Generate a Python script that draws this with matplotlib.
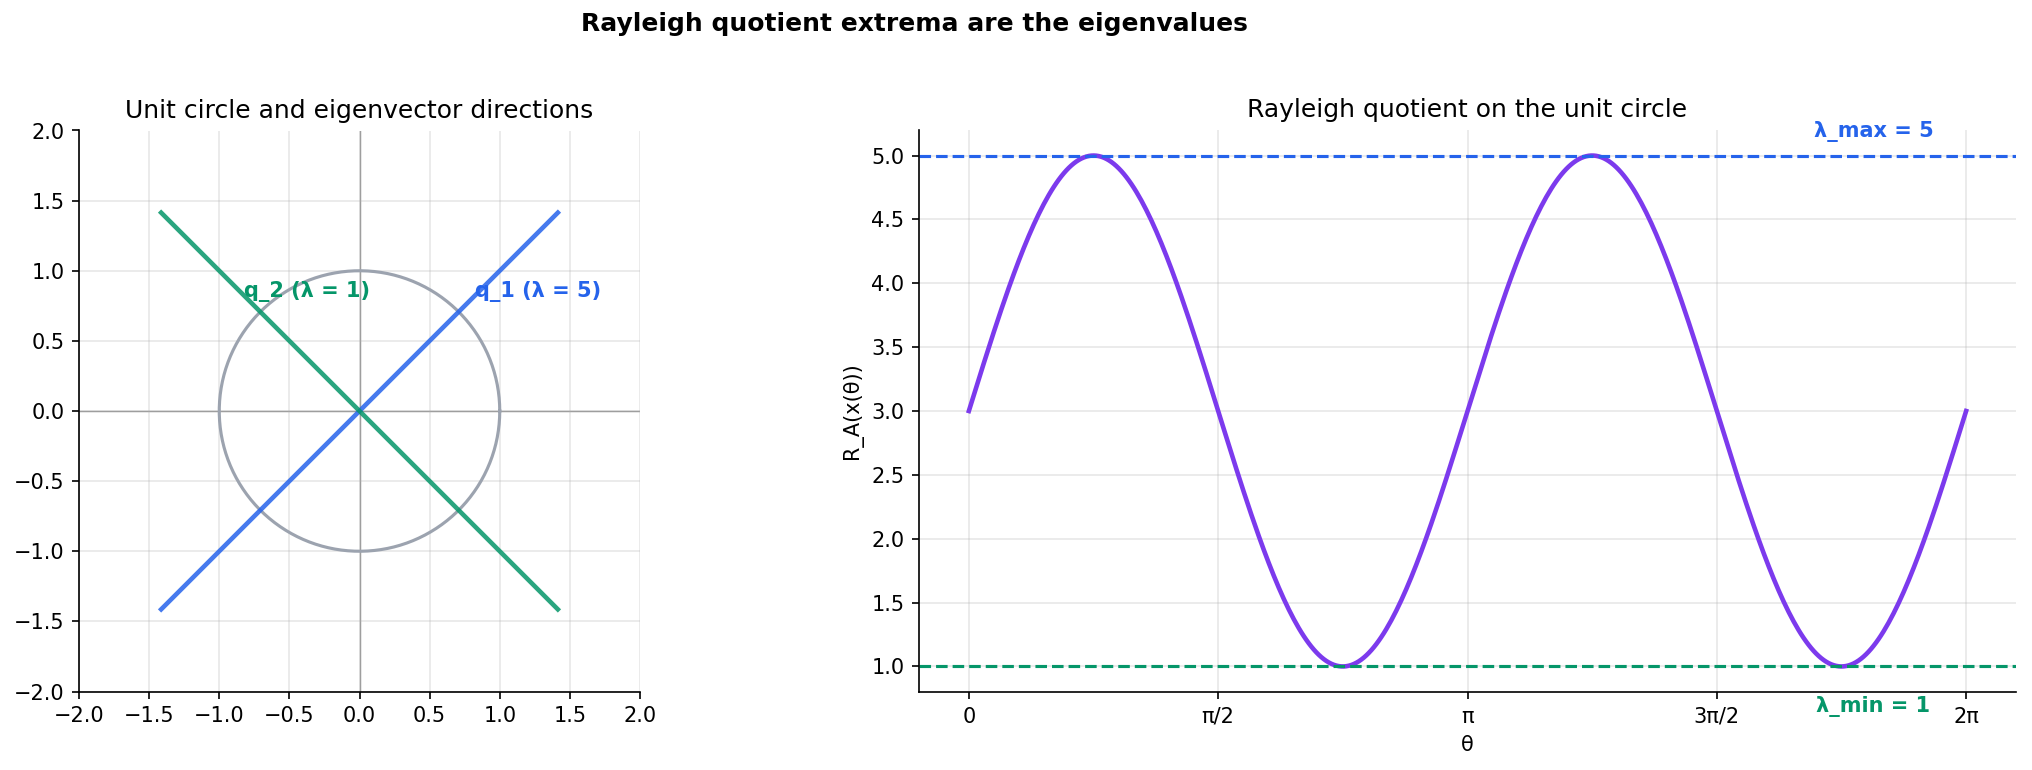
import numpy as np
import matplotlib.pyplot as plt

# symmetric matrix and its eigen-pairs
A = np.array([[3.0, 2.0],
              [2.0, 3.0]])
lam_max, lam_min = 5, 1
q1 = np.array([1.0, 1.0]) / np.sqrt(2)
q2 = np.array([-1.0, 1.0]) / np.sqrt(2)

tick_pos = [0, np.pi / 2, np.pi, 3 * np.pi / 2, 2 * np.pi]
tick_lab = ['0', 'π/2', 'π', '3π/2', '2π']

c_blue = '#2563eb'
c_green = '#059669'
c_purple = '#7c3aed'
c_gray = '#9ca3af'

theta = np.linspace(0, 2 * np.pi, 400)
X = np.vstack([np.cos(theta), np.sin(theta)])
R = np.einsum('in,ij,jn->n', X, A, X)

fig = plt.figure(figsize=(2032 / 150, 770 / 150), dpi=150)
ax1 = fig.add_axes([79 / 2032, 1 - 692 / 770, 561 / 2032, 562 / 770])
ax2 = fig.add_axes([919 / 2032, 1 - 692 / 770, 1097 / 2032, 562 / 770])

# left: unit circle + eigenvector lines
ax1.plot(X[0], X[1], color=c_gray, lw=1.5)
s = 2.0
ax1.plot([-s * q1[0], s * q1[0]], [-s * q1[1], s * q1[1]], color=c_blue, lw=2.2, alpha=0.85)
ax1.plot([-s * q2[0], s * q2[0]], [-s * q2[1], s * q2[1]], color=c_green, lw=2.2, alpha=0.85)
ax1.axhline(0, color='gray', lw=0.7, alpha=0.8, zorder=0)
ax1.axvline(0, color='gray', lw=0.7, alpha=0.8, zorder=0)
ax1.text(0.82, 0.85, 'q_1 (λ = 5)', color=c_blue, fontweight='bold', fontsize=10, va='center')
ax1.text(-0.82, 0.85, 'q_2 (λ = 1)', color=c_green, fontweight='bold', fontsize=10, va='center')
ax1.set_xlim(-2, 2)
ax1.set_ylim(-2, 2)
ax1.set_aspect('equal')
ax1.set_title('Unit circle and eigenvector directions', fontsize=12)
ax1.grid(alpha=0.3)

# right: Rayleigh quotient
ax2.plot(theta, R, color=c_purple, lw=2.2)
ax2.axhline(lam_max, color=c_blue, ls='--', lw=1.5)
ax2.axhline(lam_min, color=c_green, ls='--', lw=1.5)
ax2.text(2 * np.pi * 0.907, lam_max + 0.19, 'λ_max = 5', color=c_blue, fontweight='bold',
         fontsize=10, ha='center', va='center')
ax2.text(2 * np.pi * 0.907, lam_min - 0.31, 'λ_min = 1', color=c_green, fontweight='bold',
         fontsize=10, ha='center', va='center', clip_on=False)
ax2.set_xticks(tick_pos)
ax2.set_xticklabels(tick_lab)
ax2.set_xlabel('θ')
ax2.set_ylabel('R_A(x(θ))')
ax2.set_title('Rayleigh quotient on the unit circle', fontsize=12)
ax2.grid(alpha=0.3)

for ax in (ax1, ax2):
    ax.spines['top'].set_visible(False)
    ax.spines['right'].set_visible(False)

fig.suptitle('Rayleigh quotient extrema are the eigenvalues', fontsize=12, fontweight='bold',
             x=914 / 2032, y=0.985)
fig.savefig('out.png', dpi=150)
